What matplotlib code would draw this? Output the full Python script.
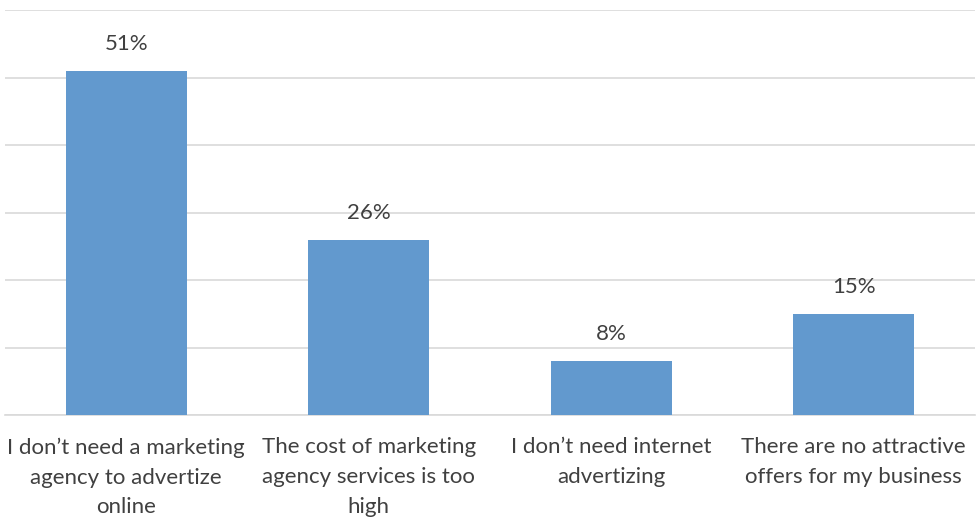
import matplotlib
matplotlib.use("Agg")
import matplotlib.pyplot as plt

categories = ["I don\u2019t need a marketing\nagency to advertize\nonline",
              "The cost of marketing\nagency services is too\nhigh",
              "I don\u2019t need internet\nadvertizing",
              "There are no attractive\noffers for my business"]
values = [51, 26, 8, 15]
labels = ["51%", "26%", "8%", "15%"]

plt.rcParams['font.family'] = ['Lato', 'DejaVu Sans']
fig = plt.figure(figsize=(9.77, 5.19), dpi=100)
ax = fig.add_axes([5/977, (519-415)/519, 970/977, 405/519])
x = list(range(len(categories)))
bars = ax.bar(x, values, width=0.5, color="#6299CE", zorder=3)
ax.set_xlim(-0.5, len(categories) - 0.5)
ax.set_ylim(0, 60)
ax.set_yticks(range(0, 61, 10))
ax.yaxis.grid(True, color="#d9d9d9", linewidth=1.2, zorder=0)
ax.tick_params(axis='y', left=False, labelleft=False)
ax.tick_params(axis='x', length=0, pad=16)
ax.set_xticks(x)
ax.set_xticklabels(categories, fontsize=16, color="#404040", linespacing=1.62, va='top')
for s in ["left", "right", "top"]:
    ax.spines[s].set_visible(False)
ax.spines["bottom"].set_color("#d9d9d9")
ax.spines["bottom"].set_linewidth(1.2)
for xi, v, lab in zip(x, values, labels):
    ax.annotate(lab, (xi, v), xytext=(0, 12), textcoords="offset points",
                ha='center', va='bottom', fontsize=16, color="#404040")
fig.savefig("out.png", dpi=100)
